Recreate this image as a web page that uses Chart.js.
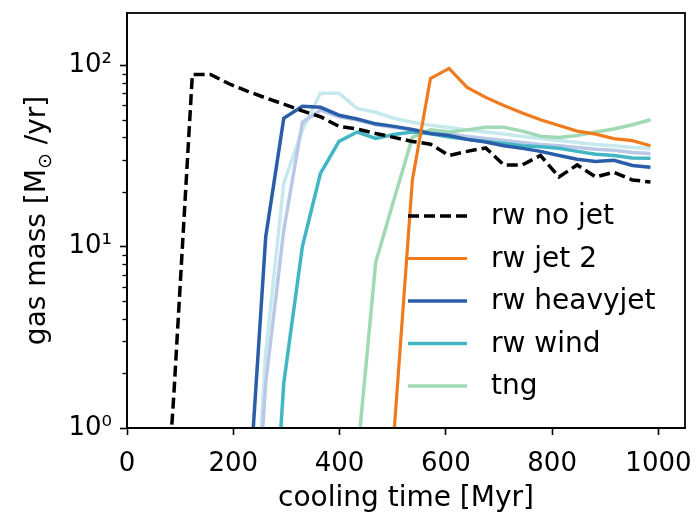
<!DOCTYPE html>
<html>
<head>
<meta charset="utf-8">
<script src="https://cdn.jsdelivr.net/npm/chart.js@4"></script>
<style>
  html, body { margin: 0; padding: 0; background: #fff; }
  #wrap { width: 700px; height: 520px; }
</style>
</head>
<body>
<div id="wrap"><canvas id="myChart" width="700" height="520"></canvas></div>
<script>
// cooling time [Myr]
const times = [19, 54, 88, 123, 157, 192, 226, 261, 295, 330, 364, 399, 433, 468, 502,
               537, 571, 606, 640, 675, 709, 744, 778, 813, 847, 882, 916, 951, 985];

const rwNoJet = [null, 0.05, 1.5, 89, 89, 79, 72, 66, 61, 56, 52, 46, 44.5, 42, 40,
                 38, 36.7, 31.8, 33.5, 35, 28.2, 28.2, 31.8, 24.2, 28.2, 24.2, 25.7, 23.3, 22.7];
const rwJet2 = [null, null, null, null, null, null, null, null, null, null, null, null, null, 0.05, 0.9,
                23.3, 84.5, 96, 75.5, 66.5, 60, 54.5, 50, 46.5, 43.3, 41.7, 39.4, 38.4, 36];
const rwHeavyjet = [null, null, null, null, null, null, 0.3, 11.3, 51, 59.3, 58.6, 53, 50.5, 47.5, 46,
                    44.2, 42, 41, 39, 37.7, 36, 34.8, 33.5, 31.8, 30.3, 29.5, 29.9, 28, 27.4];
const rwWind = [null, null, null, null, null, null, null, 0.05, 1.77, 10, 25.3, 38, 42.8, 39.5, 41.5,
                42.8, 41.9, 40.2, 39, 38, 37, 36, 35.5, 34.8, 33.5, 32.3, 31.8, 30.8, 30.7];
const tng = [null, null, null, null, null, null, null, null, null, null, null, null, 0.67, 8.2, 18,
             40, 44, 42.8, 44, 45.5, 45.5, 43.3, 40.6, 40, 41, 42.8, 44.5, 47, 50];
// two more runs drawn without a legend entry
const runPaleCyan = [null, null, null, null, null, null, 0.05, 2.6, 22.4, 44, 70, 70, 57.8, 55, 51,
                     48.5, 46.6, 45.3, 44, 42.8, 41.7, 40.5, 39.4, 38.4, 37.5, 36.5, 36, 35.2, 34.9];
const runLavender = [null, null, null, null, null, null, 0.05, 1.77, 12.3, 48.5, 56.5, 52, 49.9, 47, 45.5,
                     44, 42.8, 41.7, 40.5, 39.4, 38.4, 37.5, 36.5, 36, 35.2, 34.4, 34, 33, 32.6];

const xTicks = [0, 200, 400, 600, 800, 1000];
const yMajor = [1, 10, 100];
const yMinor = [2, 3, 4, 5, 6, 7, 8, 9, 20, 30, 40, 50, 60, 70, 80, 90];
const sup = ['\u2070', '\u00b9', '\u00b2'];

function pts(vals) {
    return times.map(function(t, i) { return { x: t, y: vals[i] }; })
                .filter(function(p) { return p.y !== null; });
}

function series(label, vals, color, width, dash) {
    return {
        label: label,
        data: pts(vals),
        borderColor: color,
        backgroundColor: color,
        borderWidth: width,
        borderDash: dash || [],
        pointRadius: 0,
        tension: 0,
        fill: false
    };
}

const framePlugin = {
    id: 'frame',
    afterDraw: function(chart) {
        const a = chart.chartArea, c = chart.ctx;
        c.save();
        c.strokeStyle = '#000';
        c.lineWidth = 1.8;
        c.strokeRect(a.left, a.top, a.right - a.left, a.bottom - a.top);
        // minor ticks on the log axis
        const ys = chart.scales.y;
        c.lineWidth = 1.3;
        yMinor.forEach(function(v) {
            const py = Math.round(ys.getPixelForValue(v)) + 0.5;
            c.beginPath();
            c.moveTo(a.left - 4.5, py);
            c.lineTo(a.left, py);
            c.stroke();
        });

        // y axis title with a subscript sun symbol
        const parts = [['gas mass [M', 28, 0], ['\u2299', 19, 6], [' /yr]', 28, 0]];
        c.fillStyle = '#000';
        c.textBaseline = 'alphabetic';
        let total = 0;
        parts.forEach(function(p) {
            c.font = p[1] + 'px "DejaVu Sans"';
            p.push(c.measureText(p[0]).width);
            total += p[3];
        });
        c.translate(45, (a.top + a.bottom) / 2);
        c.rotate(-Math.PI / 2);
        let x = -total / 2;
        parts.forEach(function(p) {
            c.font = p[1] + 'px "DejaVu Sans"';
            c.fillText(p[0], x, p[2]);
            x += p[3];
        });
        c.restore();
    }
};

const legendPlugin = {
    id: 'innerLegend',
    afterDraw: function(chart) {
        const a = chart.chartArea, c = chart.ctx;
        c.save();
        c.font = '28px "DejaVu Sans"';
        c.textBaseline = 'middle';
        c.fillStyle = '#000';
        let row = 0;
        chart.data.datasets.forEach(function(ds) {
            if (!ds.label) return;
            const y = a.top + 203 + row * 42.5;
            c.strokeStyle = ds.borderColor;
            c.lineWidth = ds.borderWidth;
            c.setLineDash(ds.borderDash);
            c.beginPath();
            c.moveTo(a.right - 277, y);
            c.lineTo(a.right - 218, y);
            c.stroke();
            c.setLineDash([]);
            c.fillText(ds.label, a.right - 194, y + 1);
            row++;
        });
        c.restore();
    }
};

window.addEventListener('DOMContentLoaded', function() {
    Chart.defaults.font.family = '"DejaVu Sans"';
    Chart.defaults.color = '#000';

    const ctx = document.getElementById('myChart');
    const myChart = new Chart(ctx, {
        type: 'line',
        data: {
            datasets: [
                series('rw no jet', rwNoJet, '#000000', 3.5, [11, 5]),
                series('rw jet 2', rwJet2, '#f07a1e', 3.2),
                series('rw heavyjet', rwHeavyjet, '#2a5ea8', 3.5),
                series('rw wind', rwWind, '#43b6c4', 3.5),
                series('tng', tng, '#a0dab4', 3.5),
                series('', runLavender, '#b9c8e6', 3.5),
                series('', runPaleCyan, '#c6e9ee', 3.5)
            ]
        },
        options: {
            responsive: false,
            animation: false,
            layout: { padding: { top: 13, right: 15, left: 0, bottom: 0 } },
            plugins: {
                legend: { display: false },
                tooltip: { enabled: false }
            },
            scales: {
                x: {
                    type: 'linear',
                    min: 0,
                    max: 1050,
                    afterBuildTicks: function(scale) {
                        scale.ticks = xTicks.map(function(v) { return { value: v }; });
                    },
                    afterFit: function(scale) {
                        scale.height = 92;
                        scale.paddingLeft = 0;
                        scale.paddingRight = 0;
                    },
                    ticks: {
                        font: { size: 26 },
                        color: '#000',
                        padding: 14,
                        maxRotation: 0,
                        callback: function(v) { return String(v); }
                    },
                    grid: { drawOnChartArea: false, tickLength: 7, tickColor: '#000', tickWidth: 1.6 },
                    border: { color: '#000', width: 1.8 },
                    title: { display: true, text: 'cooling time [Myr]', font: { size: 28 }, color: '#000', padding: { top: 0, bottom: 4 } }
                },
                y: {
                    type: 'logarithmic',
                    min: 1,
                    max: 194,
                    afterBuildTicks: function(scale) {
                        scale.ticks = yMajor.map(function(v) { return { value: v }; });
                    },
                    afterFit: function(scale) {
                        scale.width = 127;
                        scale.paddingTop = 0;
                        scale.paddingBottom = 0;
                    },
                    ticks: {
                        font: { size: 26 },
                        color: '#000',
                        padding: 8,
                        callback: function(v) { return '10' + sup[Math.round(Math.log10(v))]; }
                    },
                    grid: { drawOnChartArea: false, tickLength: 7, tickColor: '#000', tickWidth: 1.6 },
                    border: { color: '#000', width: 1.8 }
                }
            }
        },
        plugins: [framePlugin, legendPlugin]
    });
});
</script>
</body>
</html>
